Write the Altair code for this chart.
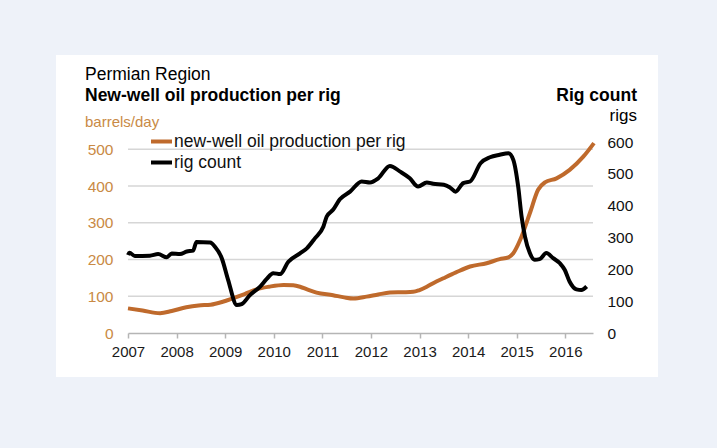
import altair as alt
import pandas as pd

# Permian region: new-well oil production per rig (barrels/day) and rig count
prod_year = [2007.0, 2007.3, 2007.66, 2007.9, 2008.2, 2008.45, 2008.7, 2008.95,
             2009.17, 2009.4, 2009.65, 2009.9, 2010.2, 2010.4, 2010.54, 2010.7,
             2010.88, 2011.22, 2011.45, 2011.64, 2011.91, 2012.15, 2012.39,
             2012.65, 2012.87, 2013.0, 2013.15, 2013.3, 2013.49, 2013.75,
             2014.04, 2014.38, 2014.65, 2014.83, 2014.93, 2015.07, 2015.27,
             2015.44, 2015.58, 2015.82, 2016.09, 2016.37, 2016.59]
prod_value = [67, 61, 54, 60, 70, 75, 77, 85,
              95, 106, 119, 126, 131, 130, 126, 118,
              110, 103, 97, 94, 99, 105, 110,
              111, 112, 117, 126, 137, 149, 165,
              181, 190, 201, 206, 217, 253, 326,
              390, 410, 421, 444, 480, 517]

rig_year = [2007.0, 2007.03, 2007.14, 2007.45, 2007.62, 2007.8, 2007.9, 2008.07,
            2008.21, 2008.34, 2008.41, 2008.69, 2008.79, 2008.93, 2009.06,
            2009.24, 2009.34, 2009.51, 2009.72, 2009.85, 2009.99, 2010.13,
            2010.3, 2010.54, 2010.68, 2010.85, 2011.02, 2011.09, 2011.22,
            2011.36, 2011.57, 2011.81, 2011.98, 2012.15, 2012.39, 2012.6,
            2012.8, 2012.97, 2013.15, 2013.28, 2013.5, 2013.62, 2013.74,
            2013.9, 2014.04, 2014.26, 2014.45, 2014.65, 2014.83, 2014.93,
            2015.03, 2015.1, 2015.17, 2015.27, 2015.37, 2015.47, 2015.61,
            2015.75, 2015.89, 2015.99, 2016.09, 2016.23, 2016.33, 2016.44]
rig_value = [245, 252, 242, 243, 248, 238, 250, 248,
             256, 259, 286, 284, 271, 235, 167,
             88, 91, 119, 146, 169, 188, 185,
             224, 250, 266, 298, 334, 366, 387,
             420, 444, 476, 473, 486, 525, 507,
             486, 460, 473, 469, 466, 458, 444,
             471, 476, 534, 552, 560, 565, 544,
             460, 366, 303, 251, 230, 232, 251,
             235, 219, 198, 161, 137, 135, 146]

series_names = ["new-well oil production per rig", "rig count"]
series_colors = ["#bf6a2c", "#000000"]
year_ticks = list(range(2007, 2017))
prod_ticks = [0, 100, 200, 300, 400, 500]
rig_ticks = [0, 100, 200, 300, 400, 500, 600]

FONT = "Liberation Sans"
ORANGE_TXT = "#c98a45"
BG = "#eef2f9"
AXIS_GRAY = "#b5b5b5"

prod_df = pd.DataFrame({"year": prod_year, "value": prod_value, "series": series_names[0]})
rig_df = pd.DataFrame({"year": rig_year, "value": rig_value, "series": series_names[1]})
grid_df = pd.DataFrame({"value": prod_ticks[1:]})

prod_scale = alt.Scale(domain=[0, 520], nice=False)
rig_scale = alt.Scale(domain=[0, 600], nice=False)

color = alt.Color(
    "series:N",
    scale=alt.Scale(domain=series_names, range=series_colors),
    legend=alt.Legend(
        orient="none", legendX=21, legendY=-13, title=None,
        symbolType="stroke", symbolSize=441, symbolStrokeWidth=4,
        labelFont=FONT, labelFontSize=17.5, labelColor="#111111",
        labelLimit=0, labelOffset=0, rowPadding=-2, padding=0, symbolOffset=0,
    ),
)

x_enc = alt.X(
    "year:Q",
    scale=alt.Scale(domain=[2007, 2016.57], nice=False, zero=False),
    axis=alt.Axis(
        values=year_ticks, format="d", title=None, grid=False, zindex=1,
        domain=True, domainColor=AXIS_GRAY, domainWidth=1.5,
        ticks=True, tickColor=AXIS_GRAY, tickWidth=1.5, tickSize=5,
        labelPadding=6, labelFlush=False, labelOverlap=False,
        labelFont=FONT, labelFontSize=15, labelColor="#1a1a1a",
    ),
)

# white panel behind the chart
panel = alt.Chart(alt.Data(values=[{}])).mark_rect(color="white").encode(
    x=alt.value(-72), x2=alt.value(530), y=alt.value(-87), y2=alt.value(235)
)

# horizontal gridlines on the production scale
grid = alt.Chart(grid_df).mark_rule(color="#d6d6d6", strokeWidth=1.5).encode(
    y=alt.Y("value:Q", scale=prod_scale, axis=None),
    x=alt.value(0), x2=alt.value(465),
)

prod_line = alt.Chart(prod_df).mark_line(strokeWidth=4, interpolate="monotone").encode(
    x=x_enc,
    y=alt.Y(
        "value:Q",
        scale=prod_scale,
        axis=alt.Axis(
            orient="left", values=prod_ticks, title=None, domain=False, ticks=False,
            grid=False, labelPadding=15, zindex=1,
            labelFont=FONT, labelFontSize=15.5, labelColor=ORANGE_TXT,
        ),
    ),
    color=color,
)

rig_line = alt.Chart(rig_df).mark_line(strokeWidth=4, interpolate="monotone").encode(
    x=x_enc,
    y=alt.Y(
        "value:Q",
        scale=rig_scale,
        axis=alt.Axis(
            orient="right", values=rig_ticks, title=None, domain=False, ticks=False,
            grid=False, labelPadding=14, zindex=1,
            labelFont=FONT, labelFontSize=15.5, labelColor="#111111",
        ),
    ),
    color=color,
)


def label(text, x, y, size, weight="normal", color="#000000", align="left"):
    return alt.Chart(alt.Data(values=[{}])).mark_text(
        text=text, font=FONT, fontSize=size, fontWeight=weight, color=color,
        align=align, baseline="middle",
    ).encode(x=alt.value(x), y=alt.value(y))


titles = [
    label("Permian Region", -43, -67, 17.5),
    label("New-well oil production per rig", -43, -46, 17.5, weight="bold"),
    label("barrels/day", -43, -20, 15, color=ORANGE_TXT),
    label("Rig count", 509, -46, 17.5, weight="bold", align="right"),
    label("rigs", 509, -26, 17, align="right"),
]

chart = alt.layer(panel, grid, prod_line, rig_line, *titles).resolve_scale(
    y="independent"
).properties(
    width=465, height=191,
    padding={"left": 128, "top": 142, "right": 124, "bottom": 115},
    autosize="none", background=BG,
).configure_view(stroke=None)

chart.save("out.html", embed_options={"renderer": "svg", "actions": False})
